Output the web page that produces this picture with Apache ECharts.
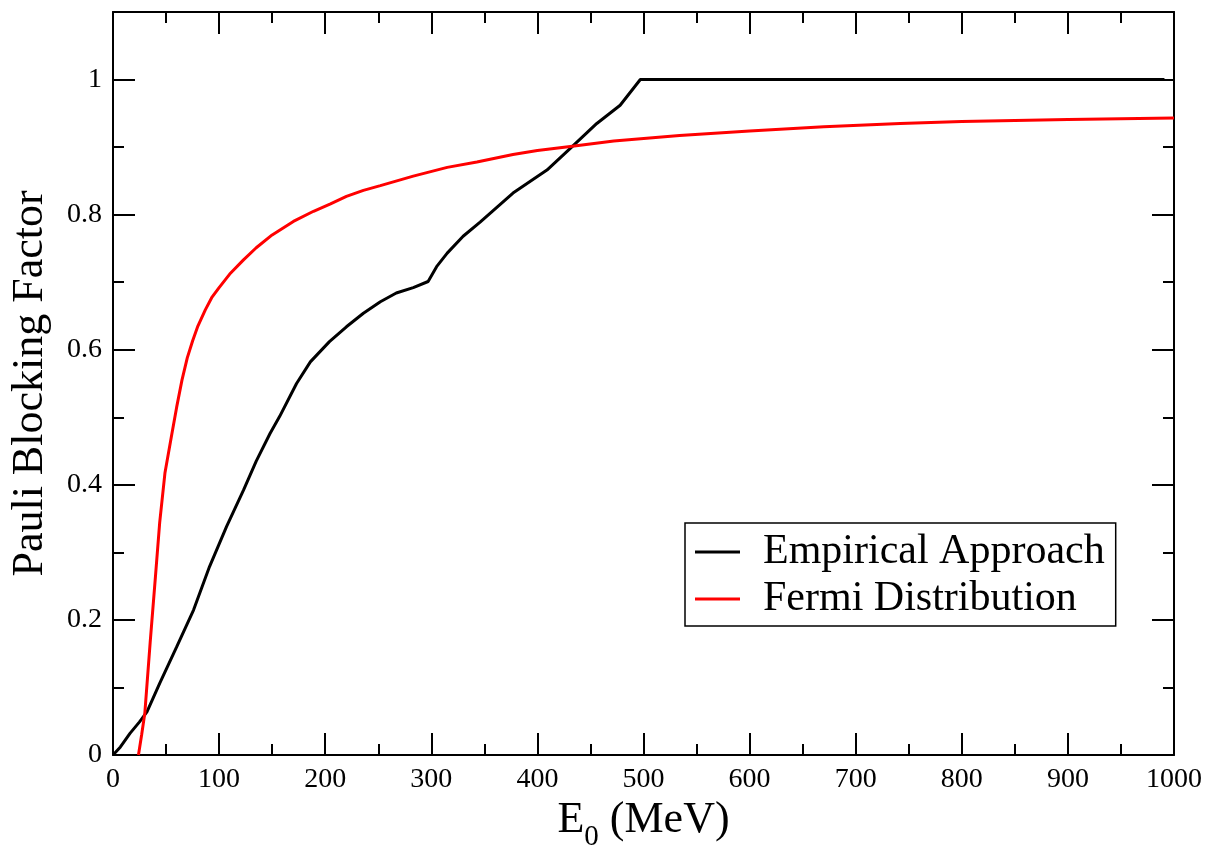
<!DOCTYPE html>
<html>
<head>
<meta charset="utf-8">
<script src="https://cdn.jsdelivr.net/npm/echarts@6/dist/echarts.min.js"></script>
<style>
  html, body { margin: 0; padding: 0; background: #fff; }
  #chart { width: 1220px; height: 852px; }
</style>
</head>
<body>
<div id="chart"></div>
<script>
// Pauli blocking factor versus incident energy E0 (MeV)
const empiricalE = [0, 7, 16, 25, 32, 44, 60, 76, 91, 107, 123, 135, 148, 157, 173, 186, 204, 220, 236, 252, 267, 283, 297, 305, 315, 330, 346, 377, 409, 431, 456, 478, 497, 991];
const empiricalF = [0, 0.012, 0.032, 0.049, 0.064, 0.106, 0.16, 0.215, 0.279, 0.338, 0.392, 0.435, 0.476, 0.501, 0.55, 0.582, 0.612, 0.634, 0.654, 0.671, 0.684, 0.692, 0.701, 0.723, 0.743, 0.768, 0.789, 0.832, 0.866, 0.898, 0.935, 0.962, 1.0, 1.0];

const fermiE = [24, 27, 30, 35, 40, 44, 49, 55, 60, 65, 70, 75, 80, 87, 93, 100, 110, 123, 135, 150, 170, 189, 205, 220, 236, 252, 283, 315, 343, 377, 400, 431, 472, 534, 600, 670, 742, 800, 900, 1000];
const fermiF = [0, 0.03, 0.062, 0.166, 0.264, 0.344, 0.418, 0.471, 0.515, 0.555, 0.588, 0.613, 0.635, 0.659, 0.677, 0.692, 0.712, 0.733, 0.751, 0.77, 0.79, 0.805, 0.816, 0.827, 0.836, 0.843, 0.857, 0.87, 0.878, 0.889, 0.895, 0.901, 0.909, 0.917, 0.924, 0.93, 0.935, 0.938, 0.941, 0.943];

const seriesNames = ['Empirical Approach', 'Fermi Distribution'];
const xTicks = { min: 0, max: 1000, major: 100 };
const yTicks = { min: 0, max: 1.1, major: 0.2, minor: 0.1 };

const FONT = 'Liberation Serif';
const pairs = (xs, ys) => xs.map((x, i) => [x, ys[i]]);

const line = { color: '#000', width: 2 };

function xAxisDef(pos, withLabels) {
  const ax = {
    type: 'value', position: pos,
    min: xTicks.min, max: xTicks.max, interval: xTicks.major,
    axisLine: { show: true, onZero: false, lineStyle: line },
    axisTick: { show: true, inside: true, length: 22, lineStyle: line },
    minorTick: { show: true, splitNumber: 2, length: 11, lineStyle: line },
    splitLine: { show: false }, minorSplitLine: { show: false },
    axisLabel: {
      show: withLabels, margin: 11, color: '#000', fontFamily: FONT, fontSize: 28,
      formatter: v => String(v)
    }
  };
  if (withLabels) {
    ax.name = '{e|E}{s|0}{e| (MeV)}';
    ax.nameLocation = 'middle';
    ax.nameGap = 38;
    ax.nameTextStyle = {
      color: '#000', fontFamily: FONT,
      rich: {
        e: { fontFamily: FONT, fontSize: 44, lineHeight: 44, verticalAlign: 'top', color: '#000' },
        s: { fontFamily: FONT, fontSize: 29, lineHeight: 29, verticalAlign: 'top', padding: [24, 0, 0, 0], color: '#000' }
      }
    };
  }
  return ax;
}

function yAxisDef(pos, step, tickLen, withLine, withLabels) {
  const ax = {
    type: 'value', position: pos,
    min: yTicks.min, max: yTicks.max, interval: step,
    axisLine: { show: withLine, onZero: false, lineStyle: line },
    axisTick: { show: true, inside: true, length: tickLen, lineStyle: line },
    splitLine: { show: false },
    axisLabel: {
      show: withLabels, margin: 11, color: '#000', fontFamily: FONT, fontSize: 28,
      formatter: v => (v > 1.05 ? '' : String(+v.toFixed(1)))
    }
  };
  if (withLabels) {
    ax.name = 'Pauli Blocking Factor';
    ax.nameLocation = 'middle';
    ax.nameGap = 61;
    ax.nameTextStyle = { color: '#000', fontFamily: FONT, fontSize: 44, lineHeight: 44 };
  }
  return ax;
}

const chart = echarts.init(document.getElementById('chart'), null, { renderer: 'canvas' });
chart.setOption({
  backgroundColor: '#fff',
  animation: false,
  grid: { left: 113, top: 12, right: 46, bottom: 97, containLabel: false, outerBoundsMode: 'none' },
  xAxis: [xAxisDef('bottom', true), xAxisDef('top', false)],
  yAxis: [
    yAxisDef('left', yTicks.major, 22, true, true),
    yAxisDef('left', yTicks.minor, 11, false, false),
    yAxisDef('right', yTicks.major, 22, true, false),
    yAxisDef('right', yTicks.minor, 11, false, false)
  ],
  legend: {
    orient: 'vertical',
    left: 685, top: 523,
    padding: [7, 11, 5, 10],
    itemGap: 3,
    itemWidth: 45, itemHeight: 3,
    icon: 'rect',
    borderColor: '#000', borderWidth: 1.5,
    backgroundColor: '#fff',
    textStyle: { fontFamily: FONT, fontSize: 42, lineHeight: 44, color: '#000', padding: [0, 0, 0, 18] },
    data: seriesNames
  },
  series: [
    {
      name: seriesNames[0], type: 'line', xAxisIndex: 0, yAxisIndex: 0,
      data: pairs(empiricalE, empiricalF),
      showSymbol: false, symbol: 'none', smooth: false,
      lineStyle: { color: '#000', width: 3 }, itemStyle: { color: '#000' }
    },
    {
      name: seriesNames[1], type: 'line', xAxisIndex: 0, yAxisIndex: 0,
      data: pairs(fermiE, fermiF),
      showSymbol: false, symbol: 'none', smooth: false,
      lineStyle: { color: '#ff0000', width: 3 }, itemStyle: { color: '#ff0000' }
    }
  ]
});
</script>
</body>
</html>
